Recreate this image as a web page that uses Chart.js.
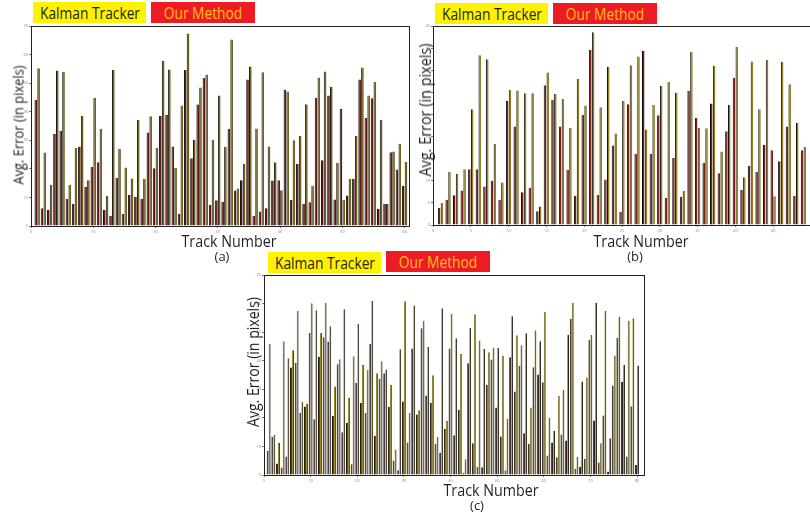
<!DOCTYPE html>
<html>
<head>
<meta charset="utf-8">
<script src="https://cdn.jsdelivr.net/npm/chart.js@4.4.0/dist/chart.umd.min.js"></script>
<style>
  html, body { margin: 0; padding: 0; background: #fff; }
  body { width: 810px; height: 513px; position: relative; overflow: hidden; font-family: "Open Sans", sans-serif; }
  canvas { position: absolute; }
  .lab { position: absolute; white-space: nowrap; color: #231f20; line-height: 1; }
  .box { position: absolute; height: 21px; overflow: hidden; font-size: 16px; }
  .box span { position: absolute; left: 50%; top: 50%; white-space: nowrap; line-height: 1;
              transform: translate(-50%, -50%) scaleX(0.86); }
  .kal { background: #fff200; color: #231f20; width: 113px; }
  .our { background: #ed1c24; color: #fdc010; width: 104px; }
</style>
</head>
<body>

<div class="box kal" style="left:33px; top:2px;"><span>Kalman Tracker</span></div>
<div class="box our" style="left:151px; top:2px;"><span>Our Method</span></div>
<div class="box kal" style="left:435px; top:3px;"><span>Kalman Tracker</span></div>
<div class="box our" style="left:553px; top:3px;"><span>Our Method</span></div>
<div class="box kal" style="left:268px; top:252px;"><span>Kalman Tracker</span></div>
<div class="box our" style="left:386px; top:251px;"><span>Our Method</span></div>

<canvas id="chartA"></canvas>
<canvas id="chartB"></canvas>
<canvas id="chartC"></canvas>

<div class="lab" style="left:18px; top:125px; font-size:15px; transform:translate(-50%,-50%) rotate(-90deg) scaleX(0.86);">Avg. Error (in pixels)</div>
<div class="lab" style="left:425px; top:110px; font-size:16px; transform:translate(-50%,-50%) rotate(-90deg) scaleX(0.9);">Avg. Error (in pixels)</div>
<div class="lab" style="left:253px; top:362px; font-size:16px; transform:translate(-50%,-50%) rotate(-90deg) scaleX(0.88);">Avg. Error (in pixels)</div>

<div class="lab" style="left:229px; top:240px; font-size:17px; transform:translate(-50%,-50%) scaleX(0.84);">Track Number</div>
<div class="lab" style="left:641px; top:240px; font-size:17px; transform:translate(-50%,-50%) scaleX(0.84);">Track Number</div>
<div class="lab" style="left:491px; top:489px; font-size:17px; transform:translate(-50%,-50%) scaleX(0.84);">Track Number</div>

<div class="lab" style="left:222px; top:256px; font-size:13px; transform:translate(-50%,-50%);">(a)</div>
<div class="lab" style="left:635px; top:256px; font-size:13px; transform:translate(-50%,-50%);">(b)</div>
<div class="lab" style="left:477px; top:505px; font-size:13px; transform:translate(-50%,-50%);">(c)</div>

<script>
// panel (a): 60 tracks
const oursA = [44.1, 6.2, 5.7, 32.3, 33.3, 9.5, 7.7, 27.8, 13.7, 20.7,
               22.3, 5.6, 3.5, 16.8, 4.2, 10.9, 10.2, 9.5, 32.7, 20.2,
               38.5, 38.9, 27.8, 4.3, 54.6, 23.7, 42.5, 51.8, 7.4, 9.0,
               8.5, 34.0, 12.4, 16.0, 51.3, 3.6, 5.1, 6.2, 15.9, 16.0,
               47.8, 9.2, 21.7, 7.7, 8.3, 44.8, 23.0, 45.7, 9.3, 41.0,
               10.7, 16.5, 51.3, 37.9, 44.7, 6.0, 7.7, 25.8, 19.8, 14.0];
const kalmanA = [55.2, 25.7, 14.4, 54.4, 54.0, 14.4, 27.3, 38.5, 16.0, 44.9,
                 34.0, 10.5, 54.6, 27.0, 20.5, 16.6, 37.2, 16.5, 38.4, 27.4,
                 57.8, 54.8, 20.3, 42.2, 67.4, 30.2, 48.5, 53.0, 30.2, 45.7,
                 27.7, 65.3, 13.1, 21.8, 55.8, 34.1, 53.8, 27.8, 22.3, 12.5,
                 47.1, 30.0, 31.5, 42.6, 14.1, 52.0, 54.1, 48.7, 22.1, 9.1,
                 16.5, 31.5, 55.5, 45.7, 50.5, 37.2, 7.7, 26.1, 28.8, 22.4];
const xTicksA = [0, 10, 20, 30, 40, 50, 60];
const yTicksA = [0, 10, 20, 30, 40, 50, 60, 70];

// panel (b): tracks visible up to the cut at the right edge
const oursB = [3.9, 5.7, 6.7, 7.8, 12.6, 12.6, 8.7, 10.0, 5.7, 28.1,
               22.3, 7.4, 8.4, 3.1, 31.6, 28.3, 22.3, 12.5, 6.6, 24.9,
               39.6, 6.8, 10.3, 18.0, 3.0, 27.3, 16.1, 39.4, 16.1, 24.8,
               6.1, 15.2, 6.4, 30.3, 24.2, 14.1, 27.5, 11.7, 21.2, 33.3,
               7.9, 13.4, 12.0, 18.1, 16.9, 14.4, 22.3, 6.6, 16.9];
const kalmanB = [5.0, 12.0, 11.6, 12.6, 26.2, 38.4, 37.5, 18.3, 9.6, 30.5,
                 30.4, 29.8, 29.8, 4.2, 34.5, 29.6, 28.5, 22.0, 33.0, 27.0,
                 43.6, 26.6, 35.8, 20.7, 28.1, 36.1, 38.1, 21.6, 27.2, 31.5,
                 32.4, 29.9, 7.7, 39.1, 22.0, 21.9, 36.0, 16.6, 27.2, 40.3,
                 10.8, 37.0, 26.2, 37.3, 6.5, 36.9, 31.8, 23.1, 17.7];
const xTicksB = [0, 5, 10, 15, 20, 25, 30, 35, 40, 45];
const yTicksB = [0, 5, 10, 15, 20, 25, 30, 35, 40, 45];

// panel (c): 80 tracks
const oursC = [8.5, 13.3, 4.0, 2.6, 6.5, 37.6, 39.3, 21.8, 24.0, 49.7,
               19.5, 41.3, 48.2, 46.7, 20.7, 38.8, 15.0, 18.2, 3.8, 32.3,
               25.3, 21.8, 45.9, 13.7, 33.7, 35.6, 23.8, 5.1, 1.7, 25.7,
               11.4, 44.3, 21.2, 51.4, 27.8, 25.3, 10.9, 7.8, 16.2, 44.3,
               13.9, 22.8, 0.8, 39.1, 11.1, 2.9, 2.7, 31.6, 40.4, 23.6,
               13.5, 1.6, 41.2, 29.2, 38.2, 14.6, 10.9, 37.7, 35.2, 32.5,
               6.8, 11.4, 6.2, 14.2, 12.1, 54.7, 2.1, 2.9, 5.6, 47.3,
               19.1, 4.4, 20.8, 1.2, 31.3, 48.0, 32.6, 6.5, 24.1, 3.5];
const kalmanC = [45.9, 14.0, 11.3, 46.8, 40.9, 43.7, 57.4, 25.6, 25.0, 60.1,
                 57.7, 49.7, 60.3, 52.1, 31.0, 40.5, 58.0, 27.1, 41.6, 52.9,
                 38.6, 36.8, 60.9, 35.6, 39.8, 36.9, 31.6, 8.9, 44.0, 60.8,
                 21.8, 59.3, 22.7, 54.0, 44.8, 34.9, 13.4, 58.4, 18.9, 56.4,
                 47.9, 42.4, 5.5, 51.5, 56.3, 47.1, 44.1, 43.0, 44.6, 44.5,
                 41.7, 19.8, 55.6, 48.9, 45.4, 49.6, 23.6, 50.7, 46.8, 57.1,
                 20.0, 15.4, 27.7, 29.8, 49.1, 60.3, 6.3, 32.7, 34.1, 49.0,
                 60.3, 11.1, 57.4, 12.9, 41.8, 55.4, 38.6, 54.0, 54.9, 38.3];
const xTicksC = [0, 10, 20, 30, 40, 50, 60, 70, 80];
const yTicksC = [0, 10, 20, 30, 40, 50, 60, 70];

function makePanel(id, area, ours, kalman, xMax, yMax, xTicks, yTicks, look) {
    const padL = 14, padT = 4, padR = 3, padB = 10;
    const cv = document.getElementById(id);
    cv.width = area.right - area.left + padL + padR;
    cv.height = area.bottom - area.top + padT + padB;
    cv.style.left = (area.left - padL) + 'px';
    cv.style.top = (area.top - padT) + 'px';

    const tracks = ours.map((_, i) => i + 1);
    const tickFont = { size: 4, family: 'Open Sans' };
    const useTicks = list => scale => { scale.ticks = list.map(v => ({ value: v })); };
    const edge = { left: 1, right: 0, top: 0, bottom: 0 };

    new Chart(cv, {
        type: 'bar',
        data: {
            labels: tracks,
            datasets: [{
                label: 'Our Method',
                data: ours,
                backgroundColor: look.ours,
                borderColor: look.oursEdge,
                borderWidth: edge,
                borderSkipped: false
            }, {
                label: 'Kalman Tracker',
                data: kalman,
                backgroundColor: look.kalman,
                borderColor: look.kalmanEdge,
                borderWidth: edge,
                borderSkipped: false
            }]
        },
        options: {
            responsive: false,
            animation: false,
            layout: { padding: { top: padT, right: padR, left: 0, bottom: 0 } },
            plugins: { legend: { display: false }, tooltip: { enabled: false } },
            datasets: { bar: { categoryPercentage: look.cat, barPercentage: look.bar } },
            scales: {
                x: {
                    type: 'linear', min: 0, max: xMax, offset: false,
                    afterBuildTicks: useTicks(xTicks),
                    afterFit: s => { s.height = padB; },
                    grid: { drawOnChartArea: false, tickLength: 2, color: '#777', offset: false },
                    border: { color: '#222', width: 1 },
                    ticks: { font: tickFont, color: '#888', padding: 1, maxRotation: 0, autoSkip: false }
                },
                x2: {
                    type: 'linear', position: 'top', min: 0, max: xMax,
                    afterBuildTicks: useTicks(xTicks),
                    afterFit: s => { s.height = 0; },
                    grid: { drawOnChartArea: false, tickLength: 0 },
                    border: { color: '#222', width: 1 },
                    ticks: { display: false }
                },
                y: {
                    min: 0, max: yMax,
                    afterBuildTicks: useTicks(yTicks),
                    afterFit: s => { s.width = padL; },
                    grid: { drawOnChartArea: false, tickLength: 2, color: '#777' },
                    border: { color: '#222', width: 1 },
                    ticks: { font: tickFont, color: '#888', padding: 1 }
                },
                y2: {
                    position: 'right', min: 0, max: yMax,
                    afterBuildTicks: useTicks(yTicks),
                    afterFit: s => { s.width = 0; },
                    grid: { drawOnChartArea: false, tickLength: 0 },
                    border: { color: '#222', width: 1 },
                    ticks: { display: false }
                }
            }
        }
    });
}

makePanel('chartA', { left: 31, right: 409, top: 26, bottom: 226 }, oursA, kalmanA, 60.7, 70, xTicksA, yTicksA,
    { ours: '#5e161a', oursEdge: '#1a0e0e', kalman: '#6e6420', kalmanEdge: '#1c1a0c', cat: 0.9, bar: 0.95 });
makePanel('chartB', { left: 433, right: 811, top: 26, bottom: 225 }, oursB, kalmanB, 50, 45, xTicksB, yTicksB,
    { ours: '#7d1a1a', oursEdge: '#150808', kalman: '#8f8220', kalmanEdge: '#14120a', cat: 0.75, bar: 0.9 });
makePanel('chartC', { left: 264, right: 644, top: 275, bottom: 475 }, oursC, kalmanC, 81.5, 70, xTicksC, yTicksC,
    { ours: '#261410', oursEdge: '#140a08', kalman: '#1f1c12', kalmanEdge: '#9c8b16', cat: 0.85, bar: 0.95 });
</script>
</body>
</html>
